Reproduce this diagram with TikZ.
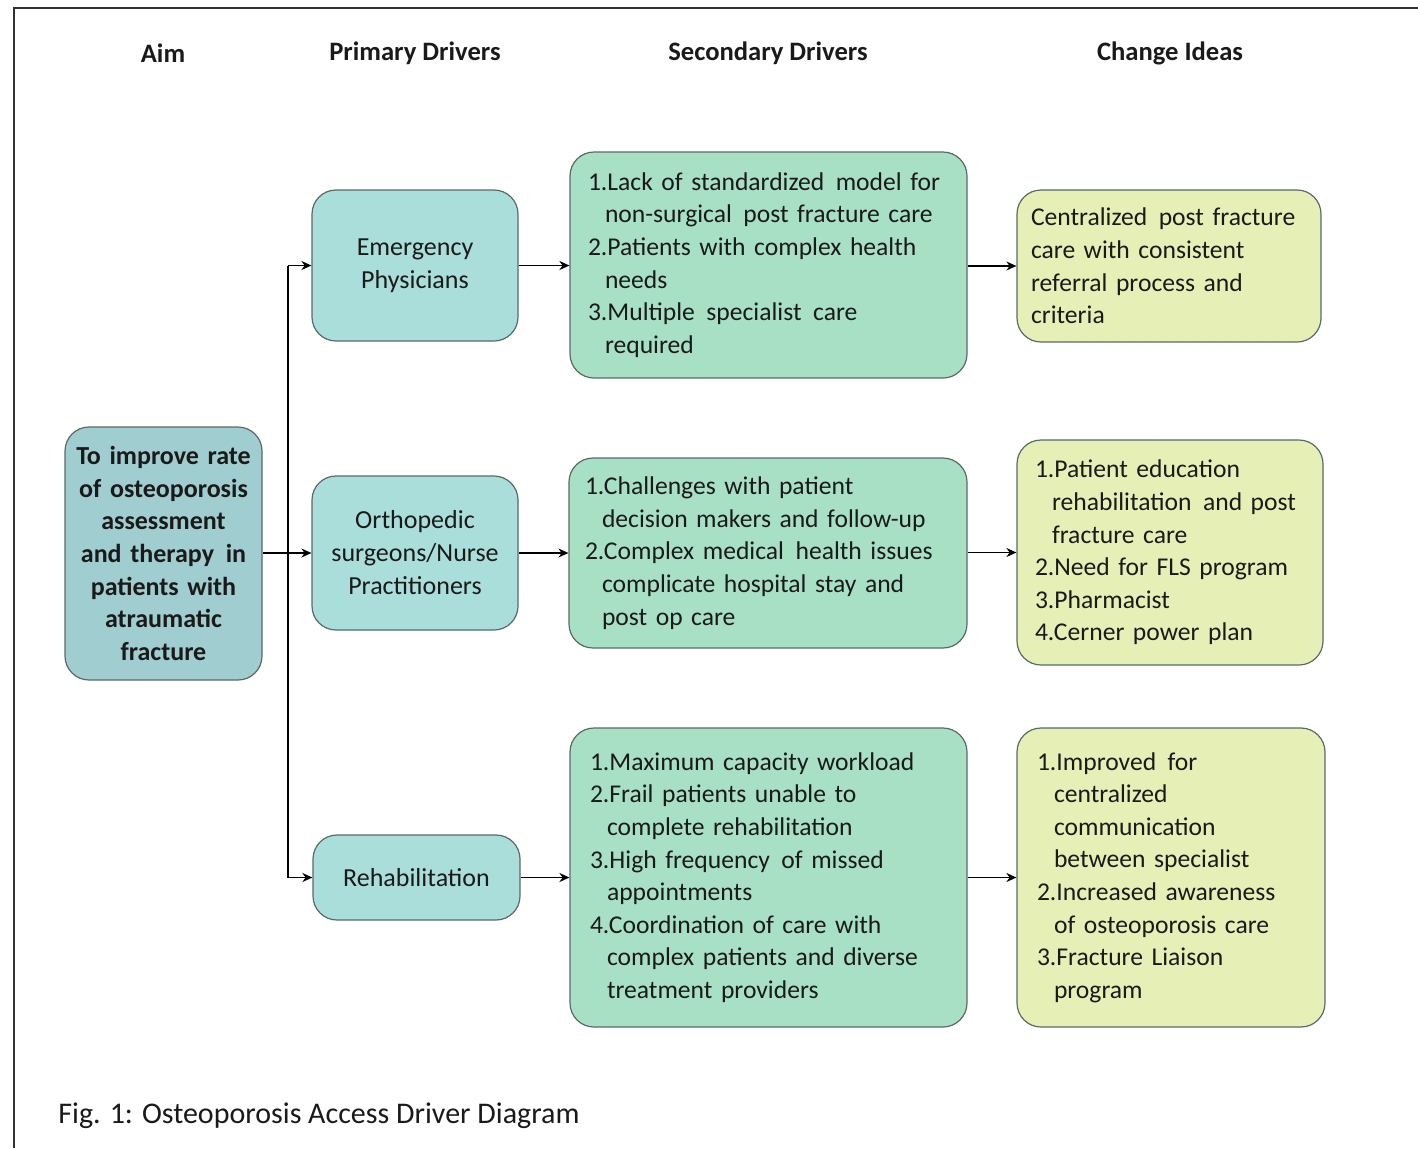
\documentclass[tikz,border=0pt]{standalone}
\usepackage{fontspec}
\setmainfont{Carlito}
\usetikzlibrary{arrows.meta}
\definecolor{aimc}{HTML}{A0CDCF}
\definecolor{primc}{HTML}{A9DEDB}
\definecolor{secc}{HTML}{A8E0C6}
\definecolor{chgc}{HTML}{E6F0B6}
\definecolor{edgec}{HTML}{5A6A66}
\definecolor{txt}{HTML}{1A1A1A}
\newcommand{\dsp}{\hspace{0.45em}}
\newcommand{\hang}{\hspace*{8.5pt}}
\begin{document}
\begin{tikzpicture}[x=0.5pt,y=-0.5pt,
  box/.style={draw=edgec, line width=0.6pt, rounded corners=12pt, text=txt,
    font=\fontsize{12.8}{16.3}\selectfont, inner ysep=0pt},
  aimbox/.style={box, fill=aimc, align=center, font=\bfseries\fontsize{13}{16.3}\selectfont},
  primbox/.style={box, fill=primc, align=center, font=\fontsize{13}{16.5}\selectfont},
  secbox/.style={box, fill=secc, align=left, inner xsep=9pt},
  chgbox/.style={box, fill=chgc, align=left, inner xsep=8pt},
  hdr/.style={font=\bfseries\fontsize{13.3}{15}\selectfont, text=txt},
  arr/.style={-{Stealth[length=5pt,width=4.5pt]}, line width=0.9pt, black},
  ln/.style={line width=0.9pt, black}]
\useasboundingbox (0,0) rectangle (1418,1148);
\fill[white] (0,0) rectangle (1418,1148);
\draw[line width=1pt, black!80] (14,1148) -- (14,8) -- (1418,8);

% headers
\node[hdr] (h1) at (163,53) {Aim};
\node[hdr] (h2) at (415,53) {Primary Drivers};
\node[hdr] (h3) at (768,53) {Secondary Drivers};
\node[hdr] (h4) at (1170,53) {Change Ideas};

% aim
\node[aimbox, minimum width=98.5pt, minimum height=126.5pt, text width=94pt, inner xsep=2.25pt] (aim) at (163.5,553.5)
  {To improve rate\\of osteoporosis\\assessment\\and therapy\dsp in\\patients with\\atraumatic\\fracture};

% primary
\node[primbox, minimum width=103pt, minimum height=75.5pt] (ep) at (415,265.5) {Emergency\\Physicians};
\node[primbox, minimum width=103pt, minimum height=77pt] (or) at (415,553) {Orthopedic\\surgeons/Nurse\\Practitioners};
\node[primbox, minimum width=103.5pt, minimum height=42.5pt] (rh) at (416.5,877.5) {Rehabilitation};

% secondary
\node[secbox, minimum width=198.5pt, minimum height=113pt, text width=184.5pt, inner xsep=7pt] (s1) at (768.5,265)
  {\hspace*{2pt}1.Lack of standardized\dsp model for\\
   \hang\hspace*{2pt}non-surgical\dsp post fracture care\\
   \hspace*{2pt}2.Patients with complex health\\
   \hang\hspace*{2pt}needs\\
   \hspace*{2pt}3.Multiple\dsp specialist\dsp care\\
   \hang\hspace*{2pt}required};
\node[secbox, minimum width=199pt, minimum height=95pt, text width=185pt, inner xsep=7pt] (s2) at (768,553)
  {\hspace*{1pt}1.Challenges with patient\\
   \hang\hspace*{1pt}decision makers and follow-up\\
   \hspace*{1pt}2.Complex medical\dsp health issues\\
   \hang\hspace*{1pt}complicate hospital stay and\\
   \hang\hspace*{1pt}post op care};
\node[secbox, minimum width=198.5pt, minimum height=149.5pt, text width=182.5pt, inner xsep=8pt] (s3) at (768.5,877.5)
  {\hspace*{2pt}1.Maximum capacity workload\\
   \hspace*{2pt}2.Frail patients unable to\\
   \hang\hspace*{2pt}complete rehabilitation\\
   \hspace*{2pt}3.High frequency\dsp of missed\\
   \hang\hspace*{2pt}appointments\\
   \hspace*{2pt}4.Coordination of care with\\
   \hang\hspace*{2pt}complex patients and diverse\\
   \hang\hspace*{2pt}treatment providers};

% change ideas
\node[chgbox, minimum width=152pt, minimum height=76pt, text width=140pt, inner xsep=6pt] (c1) at (1169,266)
  {\hspace*{1pt}Centralized\dsp post fracture\\
   \hspace*{1pt}care with consistent\\
   \hspace*{1pt}referral process and\\
   \hspace*{1pt}criteria};
\node[chgbox, minimum width=153pt, minimum height=112.5pt, text width=141pt, inner xsep=6pt] (c2) at (1170,552.5)
  {\hspace*{3pt}1.Patient education\\
   \hang\hspace*{3pt}rehabilitation\dsp and post\\
   \hang\hspace*{3pt}fracture care\\
   \hspace*{3pt}2.Need for FLS program\\
   \hspace*{3pt}3.Pharmacist\\
   \hspace*{3pt}4.Cerner power plan};
\node[chgbox, minimum width=154pt, minimum height=149.5pt, text width=142pt, inner xsep=6pt] (c3) at (1171,877.5)
  {\hspace*{4pt}1.Improved\dsp for\\
   \hang\hspace*{4pt}centralized\\
   \hang\hspace*{4pt}communication\\
   \hang\hspace*{4pt}between specialist\\
   \hspace*{4pt}2.Increased awareness\\
   \hang\hspace*{4pt}of osteoporosis care\\
   \hspace*{4pt}3.Fracture Liaison\\
   \hang\hspace*{4pt}program};

% connectors
\coordinate (tk) at (288,553);
\draw[arr] (aim.east |- or.west) -- (or.west);
\draw[ln] (tk |- ep.west) -- (tk |- rh.west);
\draw[arr] (tk |- ep.west) -- (ep.west);
\draw[arr] (tk |- rh.west) -- (rh.west);
\draw[arr] (ep.east) -- (ep.east -| s1.west);
\draw[arr] (or.east) -- (or.east -| s2.west);
\draw[arr] (rh.east) -- (rh.east -| s3.west);
\draw[arr] (s1.east |- c1.west) -- (c1.west);
\draw[arr] (s2.east |- c2.west) -- (c2.west);
\draw[arr] (s3.east |- c3.west) -- (c3.west);

% caption
\node[anchor=west, font=\fontsize{15}{17}\selectfont, text=txt, inner sep=0pt] (cap) at (58,1116)
  {Fig. 1: Osteoporosis Access Driver Diagram};
\end{tikzpicture}
\end{document}
